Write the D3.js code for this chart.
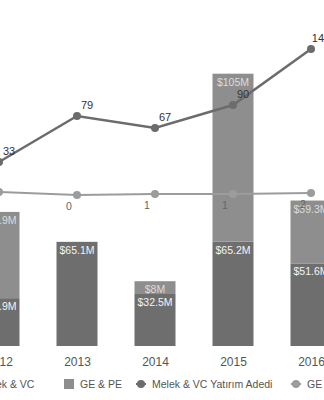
<!DOCTYPE html>
<html><head><meta charset="utf-8">
<script src="https://cdn.jsdelivr.net/npm/d3@7/dist/d3.min.js"></script>
<style>
html,body{margin:0;padding:0;background:#fff;}
svg{display:block;font-family:"Liberation Sans",Arial,Helvetica,sans-serif;}
</style></head>
<body>
<svg id="c" width="324" height="400"></svg>
<script>
const years = ["2012","2013","2014","2015","2016"];
const melekVC = [29.9, 65.1, 32.5, 65.2, 51.6];
const gePE = [53.9, 0, 8, 105, 39.3];
const melekVCLabels = ["$29.9M","$65.1M","$32.5M","$65.2M","$51.6M"];
const gePELabels = ["$53.9M","","$8M","$105M","$39.3M"];
const melekCount = [33, 79, 67, 90, 146];
const geCount = [3, 0, 1, 1, 2];
const legendNames = ["Melek & VC","GE & PE","Melek & VC Yatırım Adedi","GE & PE Yatırım Adedi"];

const svg = d3.select("#c");
const x = d3.scalePoint().domain(years).range([-1, 311]);
const yBar = d3.scaleLinear().domain([0, 100]).range([346, 186]);
const yLine = d3.scaleLinear().domain([0, 100]).range([195, 95]);
const bw = 41;
const cDark = "#6e6e6e", cLight = "#8e8e8e", cLine1 = "#6c6c6c", cLine2 = "#9c9c9c";

// bars
const g = svg.append("g");
years.forEach((yr, i) => {
  const cx = x(yr);
  const y0 = yBar(0), y1 = yBar(melekVC[i]), y2 = yBar(melekVC[i] + gePE[i]);
  g.append("rect").attr("x", cx - bw/2).attr("y", y1).attr("width", bw).attr("height", y0 - y1).attr("fill", cDark);
  if (gePE[i] > 0) g.append("rect").attr("x", cx - bw/2).attr("y", y2).attr("width", bw).attr("height", y1 - y2).attr("fill", cLight);
  g.append("text").attr("x", cx).attr("y", y1 + 12).attr("text-anchor","middle").attr("font-size", 10.5).attr("fill", "#f4f4f4").text(melekVCLabels[i]);
  if (gePE[i] > 0) g.append("text").attr("x", cx).attr("y", y2 + 12).attr("text-anchor","middle").attr("font-size", 10.5).attr("fill", "#dcdcdc").text(gePELabels[i]);
});

// x axis labels
const xAxis = d3.axisBottom(x).tickSize(0).tickPadding(0);
const ax = svg.append("g").attr("transform", "translate(0,357)").call(xAxis);
ax.select(".domain").remove();
ax.selectAll("text").attr("font-size", 12).attr("fill", "#555").attr("font-family", "inherit").attr("dy", "0.71em");

// line 2 (GE & PE count)
const line2 = d3.line().x((d, i) => x(years[i])).y(d => yLine(d));
svg.append("path").datum(geCount).attr("d", line2).attr("fill","none").attr("stroke", cLine2).attr("stroke-width", 2);
svg.selectAll(".p2").data(geCount).enter().append("circle").attr("cx", (d,i)=>x(years[i])).attr("cy", d=>yLine(d)).attr("r", 4).attr("fill", cLine2);
svg.selectAll(".l2").data(geCount).enter().append("text").attr("x", (d,i)=>x(years[i]) - 8).attr("y", d=>yLine(d) + 15).attr("text-anchor","middle").attr("font-size", 10.5).attr("fill", "#666").text(d=>d);

// line 1 (Melek & VC count)
const line1 = d3.line().x((d, i) => x(years[i])).y(d => yLine(d));
svg.append("path").datum(melekCount).attr("d", line1).attr("fill","none").attr("stroke", cLine1).attr("stroke-width", 2.5);
svg.selectAll(".p1").data(melekCount).enter().append("circle").attr("cx", (d,i)=>x(years[i])).attr("cy", d=>yLine(d)).attr("r", 4).attr("fill", cLine1);
svg.selectAll(".l1").data(melekCount).enter().append("text").attr("x", (d,i)=>x(years[i]) + 10).attr("y", d=>yLine(d) - 7).attr("text-anchor","middle").attr("font-size", 11).attr("fill", "#333").text(d=>d);

// legend
const lg = svg.append("g").attr("font-size", 10.5).attr("fill", "#555");
const legendPos = [-37, 64, 136, 291];
legendNames.forEach((name, i) => {
  const lx = legendPos[i];
  if (i < 2) {
    lg.append("rect").attr("x", lx).attr("y", 379).attr("width", 10).attr("height", 10).attr("fill", i === 0 ? cDark : cLight);
    lg.append("text").attr("x", lx + 16).attr("y", 388).attr("fill","#555").text(name);
  } else {
    const col = i === 2 ? cLine1 : cLine2;
    lg.append("line").attr("x1", lx).attr("x2", lx + 10).attr("y1", 384).attr("y2", 384).attr("stroke", col).attr("stroke-width", 2);
    lg.append("circle").attr("cx", lx + 5).attr("cy", 384).attr("r", 4).attr("fill", col);
    lg.append("text").attr("x", lx + 16).attr("y", 388).attr("fill","#555").text(name);
  }
});
</script>
</body></html>
